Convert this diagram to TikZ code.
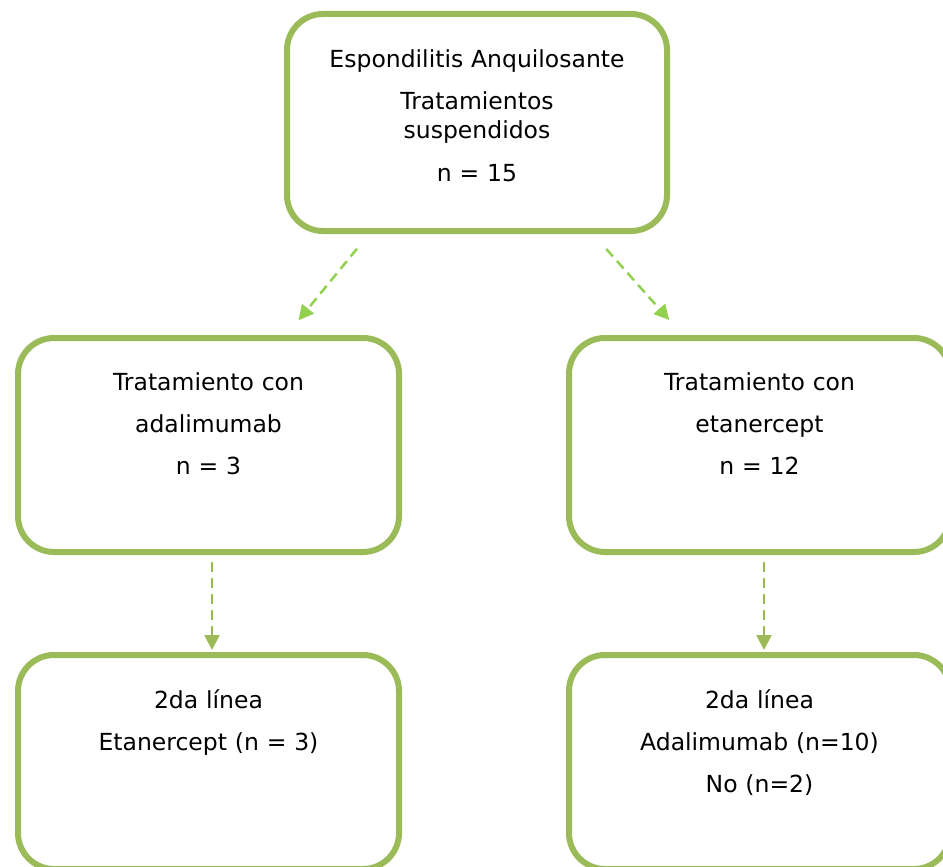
\documentclass[tikz,border=0pt]{standalone}
\usepackage{fontspec}
\setmainfont{DejaVu Sans}
\usepackage{tikz}
\usetikzlibrary{arrows.meta, positioning, calc}
\definecolor{boxgreen}{HTML}{9BBB59}
\definecolor{arrowgreen}{HTML}{92D050}

\begin{document}
\begin{tikzpicture}[x=1pt, y=1pt,
  every node/.style={font=\fontsize{23.5}{28}\selectfont},
  stagebox/.style={draw=boxgreen, line width=6pt, rounded corners=36pt, fill=white,
    inner sep=0pt, align=center, text width=381pt, anchor=north west},
  splitflow/.style={draw=arrowgreen, line width=2.5pt, dash pattern=on 10pt off 6pt,
    -{Triangle[length=15pt, width=15pt]}},
  secondflow/.style={draw=boxgreen, line width=2.5pt, dash pattern=on 10pt off 6pt,
    -{Triangle[length=15pt, width=15pt]}}
]
  \useasboundingbox (0,0) rectangle (943,-867);
  \clip (0,0) rectangle (943,-867);

  \node[stagebox, text width=380pt, text height=53pt, text depth=164pt] (ea) at (284,-11)
    {Espondilitis Anquilosante\\[15pt]Tratamientos\\suspendidos\\[16pt]n = 15};

  \node[stagebox, text height=52pt, text depth=162pt] (adal) at (15,-335)
    {Tratamiento con\\[14pt]adalimumab\\[14pt]n = 3};
  \node[stagebox, text height=52pt, text depth=162pt] (etan) at (566,-335)
    {Tratamiento con\\[14pt]etanercept\\[14pt]n = 12};

  \node[stagebox, text height=53pt, text depth=161pt] (adalsec) at (15,-652)
    {2da línea\\[14pt]Etanercept (n = 3)};
  \node[stagebox, text height=53pt, text depth=161pt] (etansec) at (566,-652)
    {2da línea\\[14pt]Adalimumab (n=10)\\[14pt]No (n=2)};

  \draw[splitflow, shorten <=19pt, shorten >=19pt]
    ([xshift=-108]ea.south) -- ([xshift=78]adal.north);
  \draw[splitflow, shorten <=20pt, shorten >=20pt]
    ([xshift=116]ea.south) -- ([xshift=-77]etan.north);

  \draw[secondflow, shorten <=7pt, shorten >=2pt]
    ([xshift=3.5]adal.south) -- ([xshift=3.5]adalsec.north);
  \draw[secondflow, shorten <=7pt, shorten >=2pt]
    ([xshift=4.5]etan.south) -- ([xshift=4.5]etansec.north);
\end{tikzpicture}
\end{document}
